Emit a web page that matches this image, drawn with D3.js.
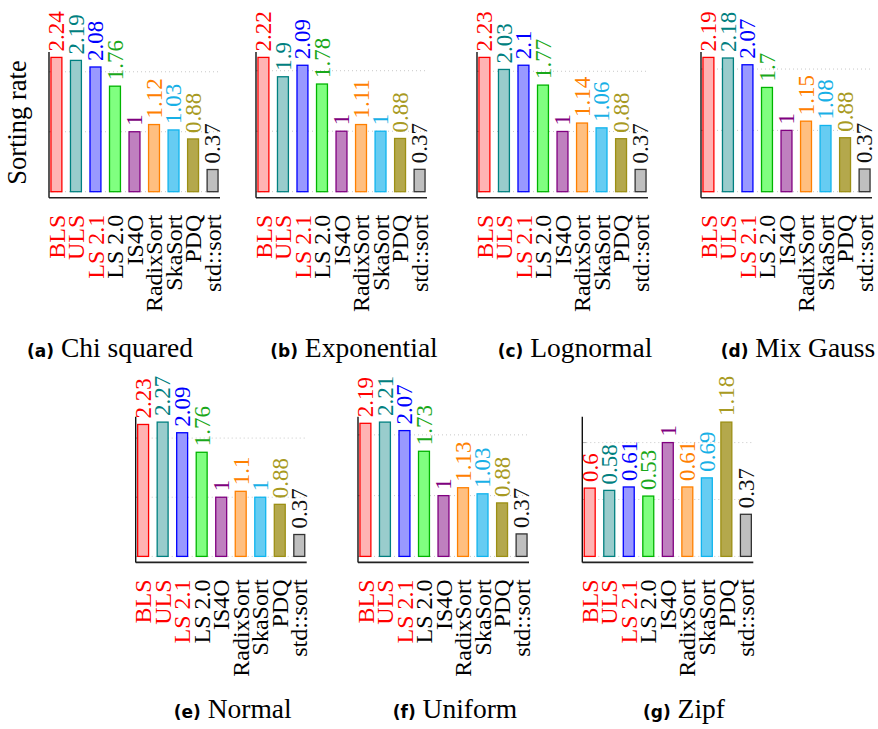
<!DOCTYPE html>
<html>
<head>
<meta charset="utf-8">
<script src="https://cdn.jsdelivr.net/npm/d3@7"></script>
<style>
  html, body { margin: 0; padding: 0; background: #fff; }
  svg { display: block; }
</style>
</head>
<body>
<svg id="chart" width="878" height="729"></svg>
<script>
// Sorting algorithms compared in every panel
const categories = ["BLS", "ULS", "LS 2.1", "LS 2.0", "IS4O", "RadixSort", "SkaSort", "PDQ", "std::sort"];
const highlighted = ["BLS", "ULS", "LS 2.1"];

// Sorting rate per input distribution
const chiSquared  = [2.24, 2.19, 2.08, 1.76, 1, 1.12, 1.03, 0.88, 0.37];
const exponential = [2.22, 1.9, 2.09, 1.78, 1, 1.11, 1, 0.88, 0.37];
const lognormal   = [2.23, 2.03, 2.1, 1.77, 1, 1.14, 1.06, 0.88, 0.37];
const mixGauss    = [2.19, 2.18, 2.07, 1.7, 1, 1.15, 1.08, 0.88, 0.37];
const normal      = [2.23, 2.27, 2.09, 1.76, 1, 1.1, 1, 0.88, 0.37];
const uniform     = [2.19, 2.21, 2.07, 1.73, 1, 1.13, 1.03, 0.88, 0.37];
const zipf        = [0.6, 0.58, 0.61, 0.53, 1, 0.61, 0.69, 1.18, 0.37];

const panelLetters = ["(a)", "(b)", "(c)", "(d)", "(e)", "(f)", "(g)"];
const panelNames = ["Chi squared", "Exponential", "Lognormal", "Mix Gauss", "Normal", "Uniform", "Zipf"];
const panelSeries = [chiSquared, exponential, lognormal, mixGauss, normal, uniform, zipf];

// stroke / fill / label colour for each algorithm
const strokeColors = ["#ff0000", "#008080", "#0000ff", "#00b400", "#800080", "#ff8000", "#10b4ee", "#9c8f14", "#333333"];
const fillColors   = ["#ffb3b3", "#99cccc", "#9999ff", "#80ff80", "#bf80bf", "#ffbf80", "#66ccf2", "#b4a84c", "#bfbfbf"];
const labelColors  = ["#ff0000", "#008080", "#0000ff", "#1aa81a", "#800080", "#ff8000", "#18b0e6", "#a89a22", "#111111"];

// panel placement: left edge of the y axis, top of the plot, caption centre
const layout = [
  { x0: 49,    top: 52,    cap: 110 },
  { x0: 256,   top: 52,    cap: 354 },
  { x0: 477,   top: 52,    cap: 575 },
  { x0: 701,   top: 52,    cap: 798 },
  { x0: 135.7, top: 416.7, cap: 232.7 },
  { x0: 358,   top: 416.7, cap: 455 },
  { x0: 582.3, top: 416.7, cap: 684 }
];

const plotW = 171, plotH = 145.7;
const serif = "Liberation Serif, DejaVu Serif, serif";

const svg = d3.select("#chart");

panelSeries.forEach((values, i) => {
  const L = layout[i];
  const bottom = L.top + plotH;
  const g = svg.append("g");

  const x = d3.scaleBand()
    .domain(categories)
    .range([L.x0, L.x0 + plotW])
    .paddingInner(0.44)
    .paddingOuter(0.1);

  const yMax = d3.max(values);
  const y = d3.scaleLinear()
    .domain([0, yMax])
    .range([bottom - 6, L.top + 5.4]);

  // dotted horizontal grid
  const ticks = y.ticks(3);
  g.selectAll("line.grid").data(ticks).join("line")
    .attr("class", "grid")
    .attr("x1", L.x0).attr("x2", L.x0 + plotW)
    .attr("y1", d => y(d)).attr("y2", d => y(d))
    .attr("stroke", "#c8c8c8")
    .attr("stroke-width", 1)
    .attr("stroke-dasharray", "1,3");

  // short inner tick marks
  g.selectAll("line.tick").data(ticks).join("line")
    .attr("class", "tick")
    .attr("x1", L.x0).attr("x2", L.x0 + 4)
    .attr("y1", d => y(d)).attr("y2", d => y(d))
    .attr("stroke", "#b0b0b0")
    .attr("stroke-width", 1);

  // bars
  g.selectAll("rect.bar").data(values).join("rect")
    .attr("class", "bar")
    .attr("x", (d, j) => x(categories[j]))
    .attr("width", x.bandwidth())
    .attr("y", d => y(d))
    .attr("height", d => y(0) - y(d))
    .attr("fill", (d, j) => fillColors[j])
    .attr("stroke", (d, j) => strokeColors[j])
    .attr("stroke-width", 1.3);

  // value labels above bars
  g.selectAll("text.val").data(values).join("text")
    .attr("class", "val")
    .attr("transform", (d, j) => `translate(${x(categories[j]) + x.bandwidth() / 2},${y(d) - 6}) rotate(-90)`)
    .attr("text-anchor", "start")
    .attr("dy", "0.34em")
    .attr("font-family", serif)
    .attr("font-size", 23)
    .attr("fill", (d, j) => labelColors[j])
    .text(d => String(d));

  // axes lines
  g.append("line")
    .attr("x1", L.x0).attr("x2", L.x0)
    .attr("y1", L.top).attr("y2", bottom)
    .attr("stroke", "#111").attr("stroke-width", 1.4);
  g.append("line")
    .attr("x1", L.x0).attr("x2", L.x0 + plotW)
    .attr("y1", bottom).attr("y2", bottom)
    .attr("stroke", "#222").attr("stroke-width", 1.6);

  // category labels
  g.selectAll("text.cat").data(categories).join("text")
    .attr("class", "cat")
    .attr("transform", d => `translate(${x(d) + x.bandwidth() / 2},${bottom + 17}) rotate(-90)`)
    .attr("text-anchor", "end")
    .attr("dy", "0.34em")
    .attr("font-family", serif)
    .attr("font-size", 24)
    .attr("fill", d => highlighted.includes(d) ? "#ff0000" : "#000")
    .text(d => d);

  // caption
  const capY = i < 4 ? 356.5 : 718;
  const cap = g.append("text")
    .attr("x", L.cap).attr("y", capY)
    .attr("text-anchor", "middle");
  cap.append("tspan")
    .attr("font-family", "DejaVu Sans, sans-serif")
    .attr("font-weight", "bold")
    .attr("font-size", 17)
    .text(panelLetters[i]);
  cap.append("tspan")
    .attr("font-family", serif)
    .attr("font-size", 27.5)
    .text(" " + panelNames[i]);
});

// shared y-axis title
svg.append("text")
  .attr("transform", "translate(17,122.5) rotate(-90)")
  .attr("text-anchor", "middle")
  .attr("dy", "0.34em")
  .attr("font-family", serif)
  .attr("font-size", 26.5)
  .attr("fill", "#000")
  .text("Sorting rate");
</script>
</body>
</html>
